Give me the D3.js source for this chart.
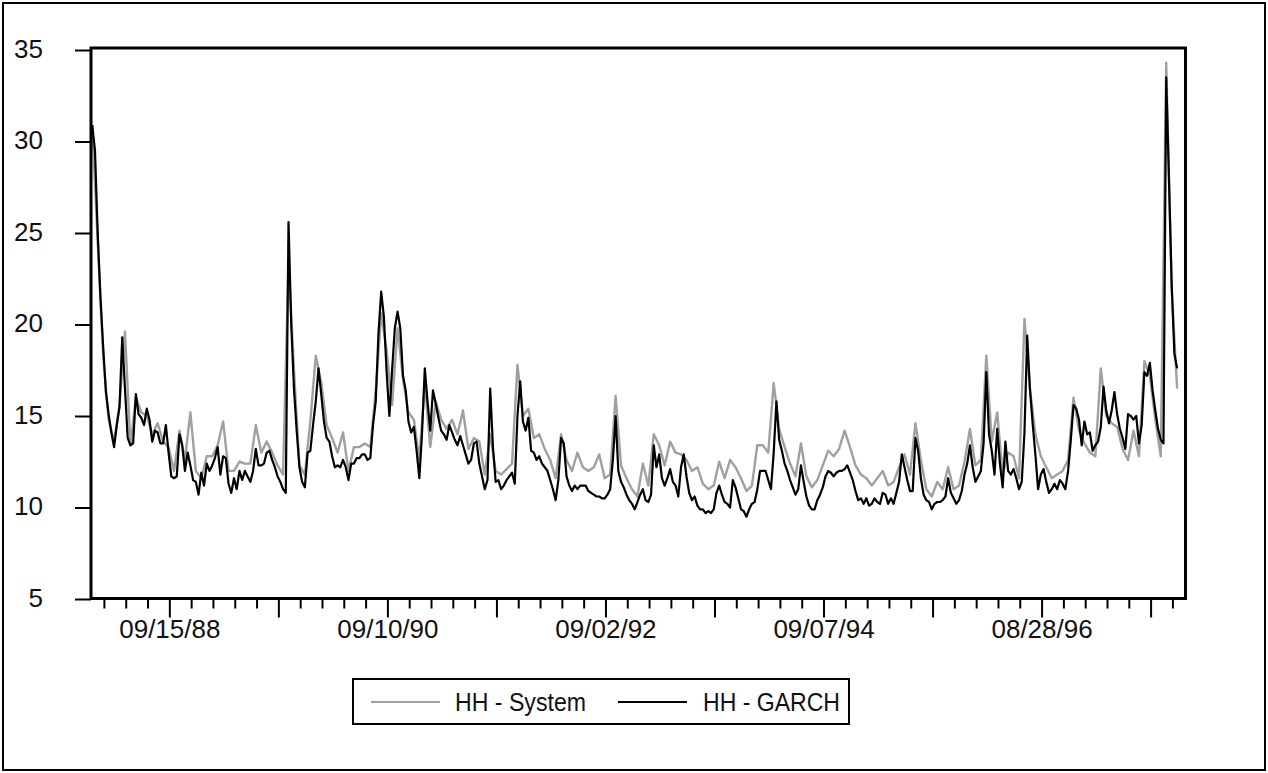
<!DOCTYPE html>
<html>
<head>
<meta charset="utf-8">
<script src="https://cdn.jsdelivr.net/npm/d3@7"></script>
<style>
  html, body { margin: 0; padding: 0; background: #fff; }
  svg { display: block; }
  text { font-family: "Liberation Sans", Arial, sans-serif; fill: #111; }
</style>
</head>
<body>
<svg id="chart" width="1268" height="773"></svg>
<script>
// HH - GARCH volatility, one value every 6.5 observations
const garch = [
  30.9, 29.5, 25.0, 21.5, 18.8, 16.3, 15.1, 14.1, 13.3, 14.5,
  15.5, 19.3, 16.5, 13.8, 13.4, 13.5, 16.2, 15.1, 14.9, 14.5,
  15.4, 14.8, 13.6, 14.2, 14.1, 13.5, 13.5, 14.5, 13.0, 11.7,
  11.6, 11.7, 14.0, 13.4, 12.0, 13.0, 12.3, 11.5, 11.4, 10.7,
  11.9, 11.2, 12.4, 12.0, 12.3, 12.7, 13.3, 11.8, 12.8, 12.7,
  11.3, 10.8, 11.6, 11.0, 12.0, 11.5, 12.0, 11.7, 11.4, 12.0,
  13.2, 12.3, 12.3, 12.4, 13.0, 13.1, 12.6, 12.2, 11.7, 11.4,
  11.0, 10.8, 25.6, 20.0, 16.5, 14.2, 12.2, 11.4, 11.1, 13.0,
  13.1, 14.5, 15.8, 17.6, 16.2, 14.7, 13.8, 13.6, 12.8, 12.2,
  12.3, 12.2, 12.6, 12.2, 11.5, 12.4, 12.4, 12.7, 12.7, 12.9,
  12.9, 12.6, 12.7, 14.5, 15.8, 19.5, 21.8, 20.4, 17.4, 15.0,
  17.5, 19.8, 20.7, 19.8, 17.2, 16.4, 14.7, 14.1, 14.4, 13.1,
  11.6, 14.1, 17.6, 15.8, 14.2, 16.4, 15.7, 14.9, 14.2, 14.0,
  13.7, 14.5, 14.1, 13.7, 13.4, 13.9, 13.4, 12.9, 12.4, 12.6,
  13.5, 13.6, 12.4, 11.7, 11.0, 11.5, 16.5, 13.3, 11.4, 11.5,
  11.0, 11.2, 11.5, 11.7, 11.9, 11.3, 15.0, 16.9, 14.7, 14.2,
  14.9, 13.1, 13.0, 12.6, 12.8, 12.4, 12.2, 12.0, 11.5, 11.0,
  10.4, 11.5, 13.8, 13.5, 11.7, 11.2, 10.9, 11.2, 11.0, 11.2,
  11.2, 11.2, 10.9, 10.8, 10.7, 10.6, 10.6, 10.5, 10.5, 10.7,
  11.0, 12.6, 15.0, 12.0, 11.4, 11.1, 10.7, 10.4, 10.2, 9.9,
  10.3, 10.7, 11.0, 10.4, 10.3, 10.7, 13.4, 12.2, 12.9, 11.6,
  11.2, 11.6, 12.1, 11.4, 11.2, 10.6, 12.2, 12.9, 11.7, 10.8,
  10.4, 10.6, 10.1, 9.9, 9.9, 9.7, 9.8, 9.7, 9.9, 10.8,
  11.2, 10.7, 10.3, 10.2, 10.0, 11.5, 11.1, 10.5, 9.9, 9.8,
  9.5, 9.9, 10.2, 10.3, 11.0, 12.0, 12.0, 12.0, 11.5, 11.0,
  13.0, 15.8, 13.7, 13.1, 12.4, 12.0, 11.5, 11.1, 10.7, 11.0,
  12.3, 11.4, 10.6, 10.1, 9.9, 9.9, 10.4, 10.7, 11.1, 11.7,
  12.0, 11.9, 11.7, 11.9, 12.0, 12.0, 12.1, 12.3, 11.9, 11.5,
  10.9, 10.4, 10.5, 10.2, 10.5, 10.1, 10.2, 10.5, 10.3, 10.2,
  10.8, 10.7, 10.2, 10.5, 10.2, 10.8, 11.4, 12.9, 12.2, 11.5,
  10.9, 10.9, 13.8, 13.1, 11.6, 10.7, 10.4, 10.3, 9.9, 10.2,
  10.3, 10.3, 10.4, 10.6, 11.6, 10.8, 10.5, 10.2, 10.4, 10.9,
  11.8, 12.4, 13.4, 12.2, 11.4, 11.7, 12.0, 13.5, 17.4, 14.0,
  13.1, 11.8, 14.3, 12.4, 11.1, 13.6, 12.0, 11.8, 12.1, 11.6,
  11.0, 11.4, 14.1, 19.4, 16.5, 14.6, 12.9, 11.0, 11.8, 12.1,
  11.4, 10.8, 11.0, 11.3, 11.0, 11.5, 11.3, 11.0, 12.0, 13.7,
  15.6, 15.4, 14.8, 13.4, 14.7, 14.0, 14.1, 13.1, 13.4, 13.6,
  14.4, 16.6, 15.3, 14.6, 15.3, 16.3, 15.1, 14.3, 13.8, 13.2,
  15.1, 15.0, 14.8, 15.0, 13.5, 14.5, 17.4, 17.2, 17.9, 16.4,
  15.3, 14.3, 13.7, 13.5, 33.5, 28.0, 22.2, 18.4, 17.6
];

// HH - System volatility, one value every 13 observations
const system = [
  30.9, 24.5, 18.3, 14.8, 13.6, 15.6, 19.6, 13.4, 16.0, 15.2,
  15.0, 14.0, 14.6, 13.6, 13.3, 12.0, 14.2, 12.6, 15.2, 12.0,
  11.6, 12.8, 12.8, 13.4, 14.7, 12.0, 12.0, 12.5, 12.4, 12.4,
  14.5, 13.0, 13.6, 13.0, 12.3, 11.8, 23.5, 17.5, 12.3, 11.8,
  14.7, 18.3, 16.8, 14.5, 13.8, 13.0, 14.1, 12.0, 13.3, 13.3,
  13.5, 13.3, 16.4, 20.6, 18.6, 15.6, 19.8, 17.0, 15.2, 14.8,
  12.6, 16.8, 13.3, 15.8, 14.8, 14.3, 14.8, 14.0, 15.3, 13.2,
  13.8, 13.6, 11.8, 14.0, 12.0, 11.8, 12.1, 12.4, 17.8, 15.0,
  15.4, 13.8, 14.0, 13.2, 12.6, 11.6, 14.0, 12.6, 12.0, 13.0,
  12.2, 12.0, 12.2, 12.9, 11.6, 11.8, 16.1, 12.3, 11.6, 11.0,
  10.6, 12.4, 11.2, 14.0, 13.4, 12.3, 13.6, 13.0, 12.9, 12.6,
  12.0, 12.2, 11.3, 11.0, 11.2, 12.5, 11.6, 12.6, 12.2, 11.6,
  10.9, 11.2, 13.4, 13.4, 13.0, 16.8, 14.3, 13.3, 12.4, 11.7,
  13.5, 11.7, 11.1, 11.5, 12.3, 13.1, 12.8, 13.2, 14.2, 13.3,
  12.3, 11.8, 11.6, 11.2, 11.6, 12.0, 11.2, 11.4, 12.2, 12.9,
  11.8, 14.6, 12.6, 11.0, 10.6, 11.4, 11.0, 12.2, 11.0, 11.2,
  12.5, 14.3, 12.3, 12.6, 18.3, 13.6, 15.2, 11.8, 13.0, 12.8,
  11.6, 20.3, 16.5, 14.0, 12.8, 12.2, 11.6, 11.8, 12.0, 12.6,
  16.0, 14.2, 13.5, 13.0, 12.8, 17.6, 15.0, 14.6, 14.4, 13.2,
  12.6, 14.2, 12.8, 18.0, 17.2, 14.8, 12.8, 34.3, 22.0, 16.5
];

const tickLabels = ["09/15/88", "09/10/90", "09/02/92", "09/07/94", "08/28/96"];
const yTicks = [5, 10, 15, 20, 25, 30, 35];
const seriesNames = ["HH - System", "HH - GARCH"];

// observation layout of the daily sample
const OBS_TOTAL = 2610;     // axis span in observations
const OBS_FIRST = 3;        // first plotted observation
const GARCH_STEP = 6.5;     // observations between stored GARCH values
const SYSTEM_STEP = 13;     // observations between stored System values
const TICK_ORIGIN = 188;    // observation of the first labelled tick
const MINOR_EVERY = 52;
const MAJOR_EVERY = 5;      // minor intervals per major tick
const LABEL_EVERY = 10;     // minor intervals per label

const svg = d3.select("#chart");

const plot = { left: 91, right: 1185.5, top: 48, bottom: 598.5 };

const x = d3.scaleLinear().domain([0, OBS_TOTAL]).range([plot.left, plot.right]);
const y = d3.scaleLinear().domain([5, 35]).range([599, 50]);

// outer frame
svg.append("rect")
  .attr("x", 3).attr("y", 3).attr("width", 1262).attr("height", 767)
  .attr("fill", "none").attr("stroke", "#000").attr("stroke-width", 2);

// y axis
const yAxis = d3.axisLeft(y).tickValues(yTicks).tickSize(16).tickPadding(32)
  .tickFormat(d3.format("d"));
const gy = svg.append("g").attr("transform", `translate(${plot.left},0)`).call(yAxis);
gy.select(".domain").remove();
gy.selectAll(".tick line").attr("stroke", "#000").attr("stroke-width", 2);
gy.selectAll(".tick text")
  .attr("font-size", 26).attr("font-family", "Liberation Sans, Arial, sans-serif")
  .attr("fill", "#111").attr("dy", "0.32em").attr("y", -1);

// x axis ticks
const tickObs = [];
for (let j = -10; ; j++) {
  const t = TICK_ORIGIN + j * MINOR_EVERY;
  if (t < 0) continue;
  if (t > OBS_TOTAL) break;
  tickObs.push({ t, j });
}
const gx = svg.append("g");
gx.selectAll("line").data(tickObs).join("line")
  .attr("x1", d => x(d.t)).attr("x2", d => x(d.t))
  .attr("y1", plot.bottom)
  .attr("y2", d => plot.bottom + (((d.j % MAJOR_EVERY) + MAJOR_EVERY) % MAJOR_EVERY === 0 ? 19 : 10))
  .attr("stroke", "#000").attr("stroke-width", 2);

const labelled = tickObs.filter(d => d.j >= 0 && d.j % LABEL_EVERY === 0);
gx.selectAll("text").data(labelled).join("text")
  .attr("x", d => x(d.t)).attr("y", 638)
  .attr("text-anchor", "middle").attr("font-size", 26)
  .text((d, i) => tickLabels[i]);

// series lines
const lineFor = step => d3.line()
  .x((d, i) => x(OBS_FIRST + i * step))
  .y(d => y(d));

svg.append("path").datum(system)
  .attr("d", lineFor(SYSTEM_STEP)).attr("fill", "none")
  .attr("stroke", "#a0a0a0").attr("stroke-width", 2.4).attr("stroke-linejoin", "round");

svg.append("path").datum(garch)
  .attr("d", lineFor(GARCH_STEP)).attr("fill", "none")
  .attr("stroke", "#000").attr("stroke-width", 2.2).attr("stroke-linejoin", "round");

// plot frame
svg.append("rect")
  .attr("x", plot.left).attr("y", plot.top)
  .attr("width", plot.right - plot.left).attr("height", plot.bottom - plot.top)
  .attr("fill", "none").attr("stroke", "#000").attr("stroke-width", 3);

// legend
const lg = svg.append("g");
lg.append("rect").attr("x", 353).attr("y", 679).attr("width", 496).attr("height", 45)
  .attr("fill", "none").attr("stroke", "#000").attr("stroke-width", 2);
const legendItems = [
  { name: seriesNames[0], color: "#a0a0a0", x0: 371, tx: 455, w: 131 },
  { name: seriesNames[1], color: "#000", x0: 618, tx: 703, w: 137 }
];
legendItems.forEach(d => {
  lg.append("line").attr("x1", d.x0).attr("x2", d.x0 + 69).attr("y1", 702).attr("y2", 702)
    .attr("stroke", d.color).attr("stroke-width", 2);
  lg.append("text").attr("x", d.tx).attr("y", 711).attr("font-size", 26)
    .attr("textLength", d.w).attr("lengthAdjust", "spacingAndGlyphs")
    .text(d.name);
});
</script>
</body>
</html>
